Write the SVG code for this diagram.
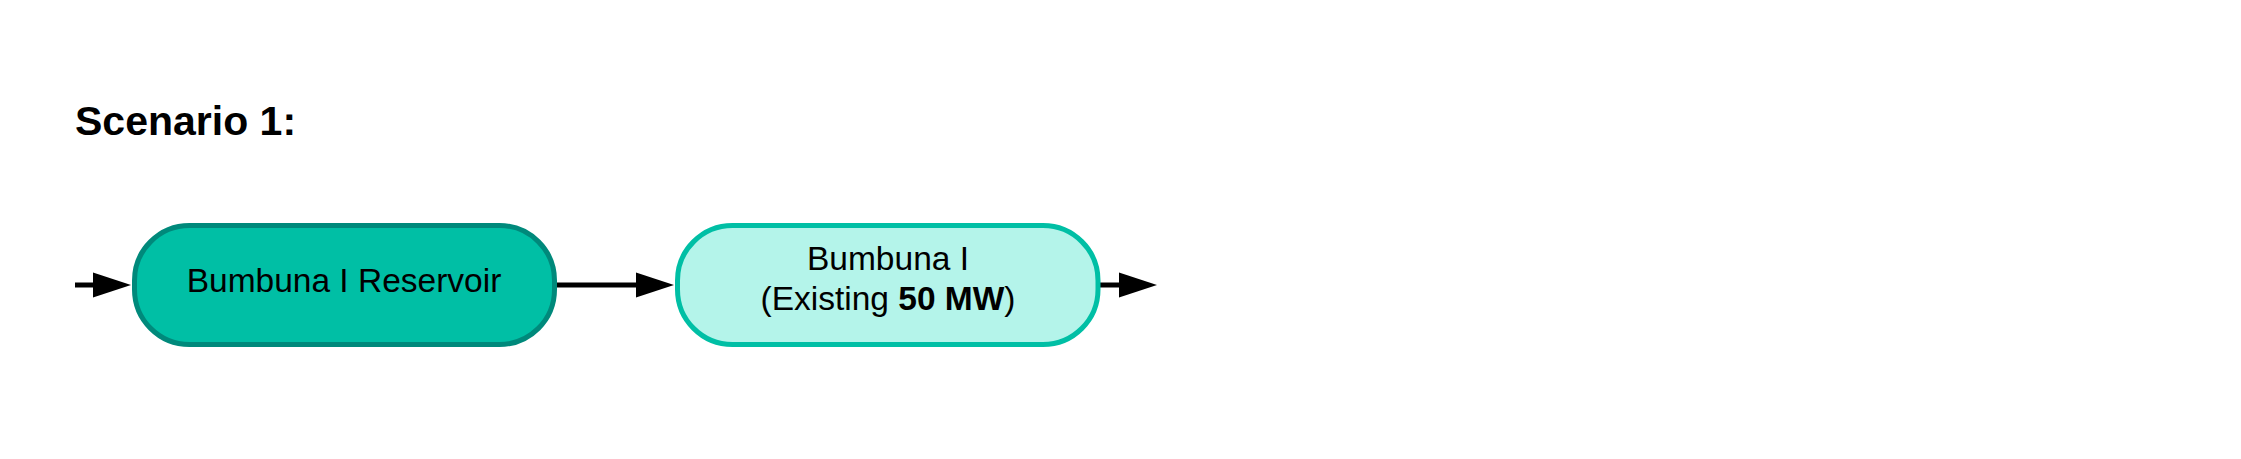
<svg xmlns="http://www.w3.org/2000/svg" width="2241" height="459" viewBox="0 0 2241 459">
<style>
.t{font-family:"Liberation Sans",Arial,sans-serif;font-size:33.5px;fill:#000;text-anchor:middle}
.b{font-weight:bold}
.title{font-family:"Liberation Sans",Arial,sans-serif;font-size:41px;font-weight:bold;fill:#000}
.c{stroke:#000;stroke-width:5;fill:none}
</style>
<defs>
<marker id="ah" markerUnits="userSpaceOnUse" markerWidth="40" markerHeight="26" refX="1" refY="12.5" orient="auto" overflow="visible">
<path d="M0,0 L38,12.5 L0,25 Z" fill="#000"/>
</marker>
</defs>
<rect width="2241" height="459" fill="#fff"/>
<text class="title" x="75" y="135">Scenario 1:</text>
<g id="connectors">
<line class="c" x1="75" y1="285" x2="94" y2="285" marker-end="url(#ah)"/>
<line class="c" x1="556" y1="285" x2="637" y2="285" marker-end="url(#ah)"/>
<line class="c" x1="1100" y1="285" x2="1120" y2="285" marker-end="url(#ah)"/>
</g>
<g id="reservoir">
<rect x="134.5" y="225.5" width="420" height="119" rx="55" ry="55" fill="#00bfa5" stroke="#00897b" stroke-width="5"/>
<text class="t" x="344" y="292">Bumbuna I Reservoir</text>
</g>
<g id="bumbuna1">
<rect x="677.5" y="225.5" width="420.5" height="119" rx="55" ry="55" fill="#b4f4ea" stroke="#00bfa5" stroke-width="5"/>
<text class="t" x="888" y="270">Bumbuna I</text>
<text class="t" x="888" y="310">(Existing <tspan class="b">50 MW</tspan>)</text>
</g>
</svg>
